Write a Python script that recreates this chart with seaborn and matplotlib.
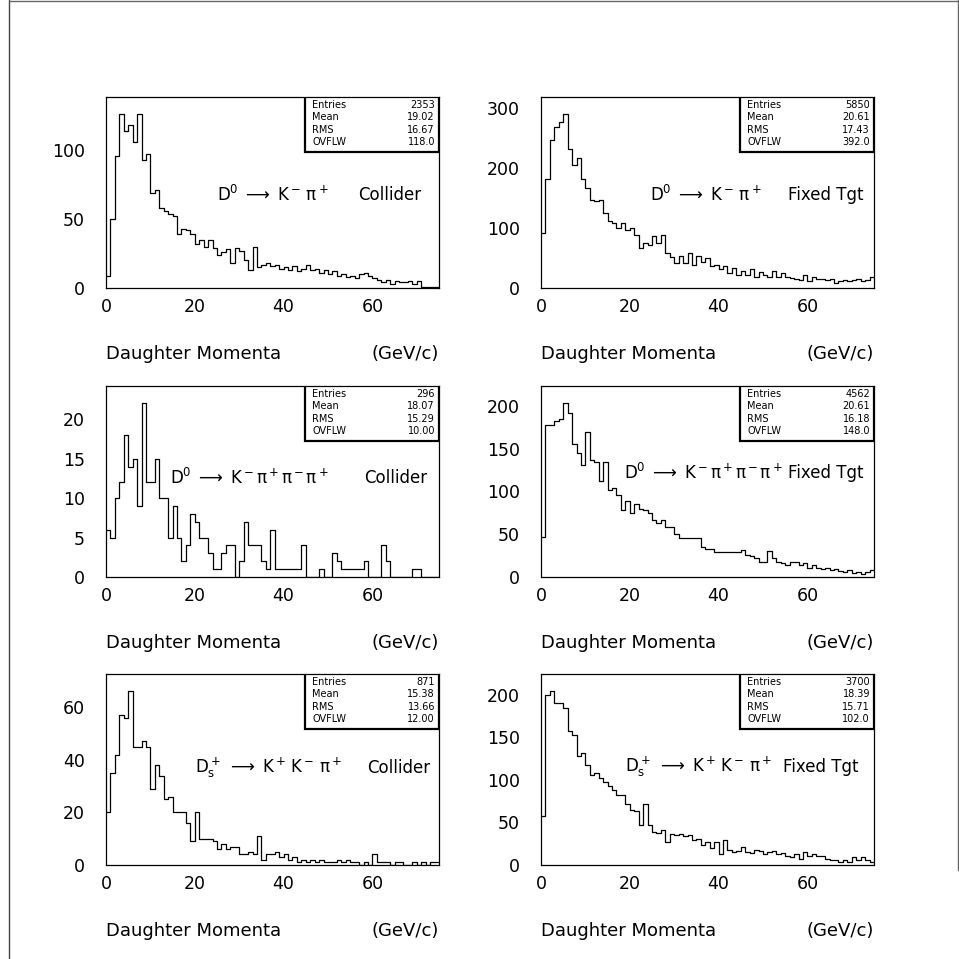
import numpy as np
import pandas as pd
import matplotlib
matplotlib.use('Agg')
import matplotlib.pyplot as plt
from matplotlib.lines import Line2D
from matplotlib.patches import Rectangle
from matplotlib.ticker import MultipleLocator
import seaborn as sns

# ---------- data: 1 GeV/c bins from 0 to 75 ----------
p_min, p_max, bin_w = 0, 75, 1

d0_kpi_collider = [9, 50, 96, 126, 114, 118, 106, 126, 93, 97,
                   69, 71, 58, 56, 54, 52, 39, 43, 42, 39,
                   32, 35, 30, 35, 29, 24, 26, 28, 18, 29,
                   27, 20, 13, 30, 15, 17, 18, 16, 17, 14,
                   15, 13, 16, 12, 14, 17, 13, 14, 11, 13,
                   10, 12, 9, 10, 8, 9, 7, 10, 11, 9,
                   7, 6, 4, 6, 3, 5, 4, 4, 5, 3,
                   5, 1, 1, 1, 1]
d0_kpi_fixed = [92, 182, 247, 268, 276, 289, 232, 204, 217, 182,
                167, 147, 144, 147, 125, 111, 109, 100, 108, 97,
                100, 89, 67, 75, 72, 86, 75, 88, 58, 51,
                42, 54, 42, 58, 39, 54, 44, 50, 36, 39,
                31, 36, 25, 33, 22, 28, 22, 31, 18, 26,
                21, 19, 28, 18, 25, 18, 17, 15, 13, 22,
                11, 19, 15, 15, 13, 15, 9, 11, 14, 11,
                13, 15, 11, 14, 19]
d0_k3pi_collider = [6, 5, 10, 12, 18, 14, 15, 9, 22, 12,
                    12, 15, 10, 10, 5, 9, 5, 2, 4, 8,
                    7, 5, 5, 3, 1, 1, 3, 4, 4, 0,
                    2, 7, 4, 4, 4, 2, 1, 6, 1, 1,
                    1, 1, 1, 1, 4, 0, 0, 0, 1, 0,
                    0, 3, 2, 1, 1, 1, 1, 1, 2, 0,
                    0, 0, 4, 2, 0, 0, 0, 0, 0, 1,
                    1, 0, 0, 0, 0]
d0_k3pi_fixed = [47, 178, 178, 182, 185, 203, 192, 156, 145, 131,
                 170, 137, 135, 112, 135, 102, 104, 96, 78, 89,
                 75, 85, 80, 78, 75, 67, 63, 67, 59, 58,
                 50, 46, 46, 46, 46, 46, 35, 33, 33, 29,
                 29, 29, 29, 29, 29, 31, 26, 25, 22, 18,
                 18, 30, 22, 17, 16, 14, 17, 18, 14, 16,
                 11, 14, 11, 9, 11, 8, 9, 7, 6, 8,
                 5, 6, 4, 6, 8]
ds_kkpi_collider = [20, 35, 42, 57, 56, 66, 45, 45, 47, 45,
                    29, 38, 34, 25, 26, 20, 20, 20, 16, 9,
                    20, 10, 10, 10, 9, 6, 8, 6, 7, 7,
                    4, 4, 5, 4, 11, 2, 4, 4, 5, 3,
                    4, 2, 3, 1, 2, 1, 2, 1, 2, 1,
                    1, 1, 2, 1, 2, 1, 1, 0, 1, 0,
                    4, 1, 1, 1, 0, 1, 1, 0, 0, 1,
                    0, 1, 0, 1, 1]
ds_kkpi_fixed = [57, 200, 204, 190, 190, 185, 157, 153, 128, 131,
                 117, 106, 108, 102, 98, 93, 88, 82, 82, 72,
                 65, 63, 47, 72, 47, 39, 38, 41, 27, 37,
                 35, 36, 34, 35, 29, 31, 23, 27, 20, 27,
                 13, 29, 18, 15, 17, 21, 15, 14, 18, 17,
                 13, 15, 17, 13, 14, 11, 9, 13, 7, 15,
                 11, 13, 10, 11, 7, 6, 6, 4, 6, 4,
                 9, 6, 9, 6, 4]

# stats box text (Entries, Mean, RMS, OVFLW)
stat_names = ['Entries', 'Mean', 'RMS', 'OVFLW']
stats_kpi_collider = ['2353', '19.02', '16.67', '118.0']
stats_kpi_fixed = ['5850', '20.61', '17.43', '392.0']
stats_k3pi_collider = ['296', '18.07', '15.29', '10.00']
stats_k3pi_fixed = ['4562', '20.61', '16.18', '148.0']
stats_kkpi_collider = ['871', '15.38', '13.66', '12.00']
stats_kkpi_fixed = ['3700', '18.39', '15.71', '102.0']

decay_kpi = r'$\mathrm{D^0}\;\longrightarrow\;\mathrm{K^-}\,\mathrm{\pi^+}$'
decay_k3pi = r'$\mathrm{D^0}\;\longrightarrow\;\mathrm{K^-}\mathrm{\pi^+}\mathrm{\pi^-}\mathrm{\pi^+}$'
decay_kkpi = r'$\mathrm{D_s^+}\;\longrightarrow\;\mathrm{K^+}\,\mathrm{K^-}\,\mathrm{\pi^+}$'

# counts, stats, decay, mode label, y major/minor ticks, text x/y, label x
panels = [
    (d0_kpi_collider, stats_kpi_collider, decay_kpi, 'Collider', 50, 10, 0.333, 0.487, 0.757),
    (d0_kpi_fixed, stats_kpi_fixed, decay_kpi, 'Fixed Tgt', 100, 20, 0.327, 0.487, 0.742),
    (d0_k3pi_collider, stats_k3pi_collider, decay_k3pi, 'Collider', 5, 1, 0.192, 0.518, 0.775),
    (d0_k3pi_fixed, stats_k3pi_fixed, decay_k3pi, 'Fixed Tgt', 50, 10, 0.250, 0.545, 0.742),
    (ds_kkpi_collider, stats_kkpi_collider, decay_kkpi, 'Collider', 20, 5, 0.267, 0.508, 0.784),
    (ds_kkpi_fixed, stats_kkpi_fixed, decay_kkpi, 'Fixed Tgt', 50, 10, 0.252, 0.513, 0.728),
]

sns.set_style('white')
plt.rcParams['font.family'] = ['DejaVu Sans']
plt.rcParams['mathtext.fontset'] = 'dejavusans'
plt.rcParams['text.color'] = 'black'
plt.rcParams['xtick.color'] = 'black'
plt.rcParams['ytick.color'] = 'black'

W = H = 959
fig = plt.figure(figsize=(W / 100, H / 100), dpi=100)

# page frame lines (PAW page box)
fig.add_artist(Line2D([8.5 / W, 8.5 / W], [0, 1], transform=fig.transFigure, color='#444', lw=1.0))
fig.add_artist(Line2D([8.5 / W, 1], [1 - 0.6 / H, 1 - 0.6 / H], transform=fig.transFigure, color='#666', lw=1.0))
fig.add_artist(Line2D([1 - 1.0 / W, 1 - 1.0 / W], [1 - 870 / H, 1], transform=fig.transFigure, color='#666', lw=1.0))

col_left = [106 / W, 541 / W]
row_bottom = [1 - 288 / H, 1 - 577 / H, 1 - 865 / H]
ax_w = 333 / W
ax_h = 191 / H
centers = np.arange(p_min, p_max, bin_w) + bin_w / 2

for i, (counts, stats, decay, mode, ymaj, ymin, tx, ty, lx) in enumerate(panels):
    r, c = divmod(i, 2)
    ax = fig.add_axes([col_left[c], row_bottom[r], ax_w, ax_h])
    df = pd.DataFrame({'p': centers, 'n': counts})
    sns.histplot(data=df, x='p', weights='n', binwidth=bin_w, binrange=(p_min, p_max),
                 element='step', fill=False, color='black', linewidth=0.9, ax=ax)
    ax.set_xlim(p_min, p_max)
    ax.set_ylim(0, 1.1 * max(counts))
    ax.set_xlabel('')
    ax.set_ylabel('')
    ax.xaxis.set_major_locator(MultipleLocator(20))
    ax.xaxis.set_minor_locator(MultipleLocator(5))
    ax.yaxis.set_major_locator(MultipleLocator(ymaj))
    ax.yaxis.set_minor_locator(MultipleLocator(ymin))
    ax.tick_params(which='both', direction='in', top=False, right=False,
                   width=0.8, color='black', labelsize=12.5)
    ax.tick_params(which='major', length=10)
    ax.tick_params(which='minor', length=5)
    ax.tick_params(axis='y', pad=15)
    ax.tick_params(axis='x', pad=7)
    for s in ax.spines.values():
        s.set_visible(True)
        s.set_color('black')
        s.set_linewidth(0.9)

    # stats box
    bx0, by0 = 0.598, 0.712
    ax.add_patch(Rectangle((bx0, by0), 1 - bx0, 1 - by0, transform=ax.transAxes,
                           fill=True, facecolor='white', edgecolor='black', lw=1.6, zorder=5))
    for k, (name, val) in enumerate(zip(stat_names, stats)):
        yy = 0.958 - k * 0.065
        ax.text(bx0 + 0.022, yy, name, transform=ax.transAxes, fontsize=7,
                va='center', ha='left', zorder=6)
        ax.text(0.988, yy, val, transform=ax.transAxes, fontsize=7,
                va='center', ha='right', zorder=6)

    ax.text(tx, ty, decay, transform=ax.transAxes, fontsize=12, va='center', ha='left')
    ax.text(lx, ty, mode, transform=ax.transAxes, fontsize=12, va='center', ha='left')

    ax.text(0.0, -0.345, 'Daughter Momenta', transform=ax.transAxes, fontsize=13,
            va='center', ha='left')
    ax.text(1.0, -0.345, '(GeV/c)', transform=ax.transAxes, fontsize=13,
            va='center', ha='right')

fig.savefig('out.png', dpi=100)
